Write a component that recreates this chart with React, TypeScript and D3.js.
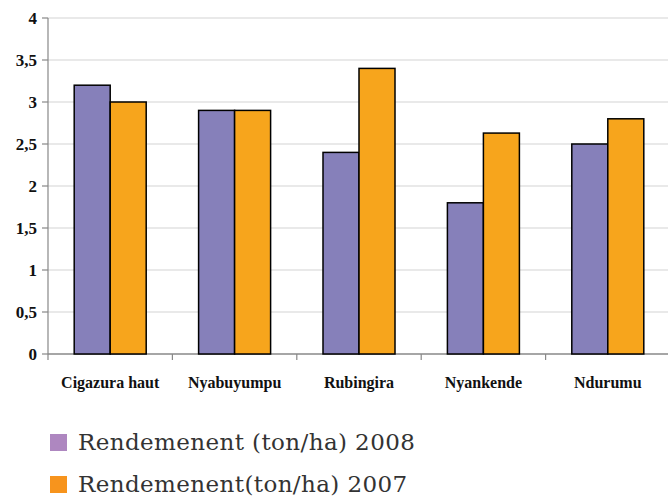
import * as d3 from 'd3';
import React from 'react';

const categories = ['Cigazura haut', 'Nyabuyumpu', 'Rubingira', 'Nyankende', 'Ndurumu'];
const yield2008 = [3.2, 2.9, 2.4, 1.8, 2.5];
const yield2007 = [3.0, 2.9, 3.4, 2.63, 2.8];
const yTicks = [0, 0.5, 1, 1.5, 2, 2.5, 3, 3.5, 4];
const seriesNames = ['Rendemenent (ton/ha) 2008', 'Rendemenent(ton/ha) 2007'];

export default function App() {
    const width = 668;
    const height = 496;
    const marginLeft = 48;
    const marginRight = -2;
    const marginTop = 18;
    const plotBottom = 354;

    const x = d3.scaleBand<string>()
        .domain(categories)
        .range([marginLeft, width - marginRight]);

    const y = d3.scaleLinear()
        .domain([0, 4])
        .range([plotBottom, marginTop]);

    const barW = 36;
    const groupPad = (x.bandwidth() - barW * 2) / 2;

    const series = [
        { values: yield2008, fill: '#8680BA', legend: '#AE87C0' },
        { values: yield2007, fill: '#F7A51C', legend: '#F7941D' },
    ];

    const fmt = (v: number) => String(v).replace('.', ',');
    const boldFont = "'Liberation Serif', 'DejaVu Serif', serif";

    return (
        <svg width={width} height={height} style={{ position: 'absolute', top: 0, left: 0 }}>
            <rect width={width} height={height} fill="#fff" />
            {/* gridlines */}
            {yTicks.map(t => (
                <line key={t} x1={marginLeft} x2={width} y1={y(t)} y2={y(t)}
                    stroke={t === 0 ? '#888' : '#d4d4d4'} strokeWidth={t === 0 ? 1.5 : 1.2} />
            ))}
            {/* bars */}
            {categories.map((c, i) => (
                <g key={c}>
                    {series.map((s, j) => (
                        <rect key={j}
                            x={(x(c) ?? 0) + groupPad + j * barW}
                            y={y(s.values[i])}
                            width={barW}
                            height={y(0) - y(s.values[i])}
                            fill={s.fill} stroke="#000" strokeWidth={1.5} />
                    ))}
                </g>
            ))}
            {/* y axis */}
            <line x1={marginLeft} x2={marginLeft} y1={marginTop} y2={plotBottom} stroke="#888" strokeWidth={1.2} />
            {yTicks.map(t => (
                <g key={t}>
                    <line x1={marginLeft - 6} x2={marginLeft} y1={y(t)} y2={y(t)} stroke="#888" strokeWidth={1.2} />
                    <text x={marginLeft - 11} y={y(t)} dy="0.35em" textAnchor="end"
                        fontFamily={boldFont} fontWeight="bold" fontSize={17} fill="#111">
                        {fmt(t)}
                    </text>
                </g>
            ))}
            {/* x axis ticks + labels */}
            {categories.map(c => (
                <line key={'t' + c} x1={x(c)} x2={x(c)} y1={plotBottom} y2={plotBottom + 6} stroke="#888" strokeWidth={1.2} />
            ))}
            {categories.map(c => (
                <text key={'l' + c} x={(x(c) ?? 0) + x.bandwidth() / 2} y={388} textAnchor="middle"
                    fontFamily={boldFont} fontWeight="bold" fontSize={16} fill="#111">
                    {c}
                </text>
            ))}
            {/* legend */}
            {series.map((s, j) => (
                <g key={'lg' + j} transform={`translate(50,${434 + j * 42})`}>
                    <rect width={17} height={17} fill={s.legend} />
                    <text x={28} y={16} fontFamily="'DejaVu Serif', serif" fontSize={23} fill="#333" letterSpacing={0.4}>
                        {seriesNames[j]}
                    </text>
                </g>
            ))}
        </svg>
    );
}
